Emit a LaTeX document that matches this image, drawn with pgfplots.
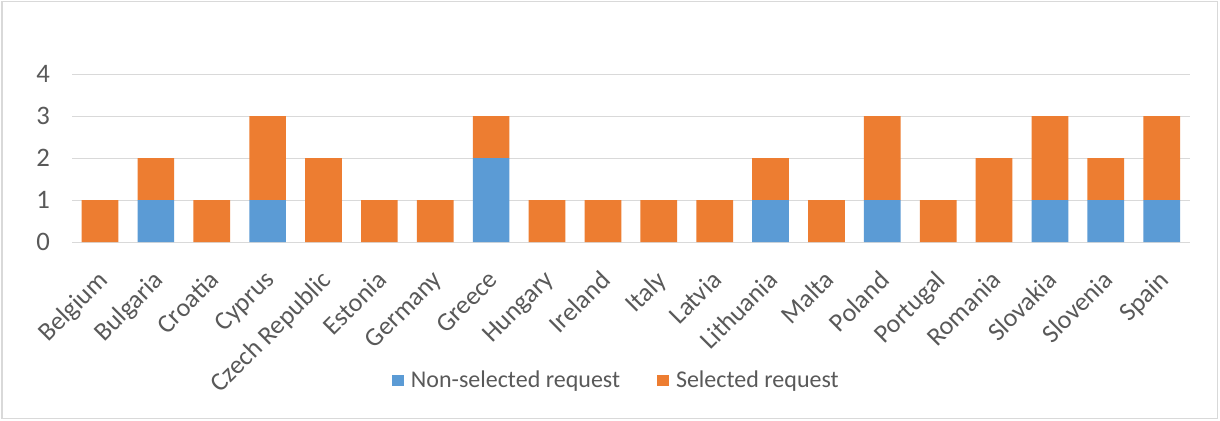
\documentclass[border=0pt]{standalone}
\usepackage{pgfplots}
\pgfplotsset{compat=1.18}
\usepackage{fontspec}
\setmainfont{Carlito}
\definecolor{nonsel}{HTML}{5B9BD5}
\definecolor{sel}{HTML}{ED7D31}
\definecolor{txt}{HTML}{595959}
\definecolor{gridc}{HTML}{D9D9D9}
\begin{document}
\begin{tikzpicture}
\fill[white] (-54pt,-133.5pt) rectangle (860.5pt,181.5pt);
\draw[gridc, line width=0.8pt] (-52.5pt,-132.5pt) rectangle (858.5pt,180.5pt);
\useasboundingbox (-54pt,-133.5pt) rectangle (860.5pt,181.5pt);
\begin{axis}[
  at={(0pt,0pt)}, anchor=south west,
  scale only axis,
  width=837.75pt, height=126pt,
  ybar stacked,
  bar width=27.5pt,
  xmin=-0.5, xmax=19.5,
  ymin=0, ymax=4,
  ytick={0,1,2,3,4},
  xtick={0,...,19},
  xticklabels={Belgium,Bulgaria,Croatia,Cyprus,Czech Republic,Estonia,Germany,Greece,Hungary,Ireland,Italy,Latvia,Lithuania,Malta,Poland,Portugal,Romania,Slovakia,Slovenia,Spain},
  xticklabel style={xshift=-3pt, yshift=-20pt, rotate=45, anchor=north east, inner sep=0pt,
    font=\fontsize{19.5}{22}\selectfont},
  yticklabel style={xshift=-13pt, font=\fontsize{20}{23}\selectfont},
  axis line style={draw=none},
  major tick length=0pt,
  xmajorgrids=false,
  ymajorgrids,
  grid style={draw=gridc, line width=0.8pt},
  tick label style={text=txt},
  /pgf/number format/assume math mode=true,
  legend columns=2,
  legend style={at={(axis description cs:0.4875,-0.823)}, anchor=center, draw=none, fill=none,
    font=\fontsize{18}{21}\selectfont, text=txt,
    /tikz/every even column/.append style={column sep=26pt}},
  legend image code/.code={\fill[#1] (0pt,-4.2pt) rectangle (8.4pt,4.2pt);},
]
\addplot[fill=nonsel, draw=none] coordinates {
(0,0) (1,1) (2,0) (3,1) (4,0) (5,0) (6,0) (7,2) (8,0) (9,0)
(10,0) (11,0) (12,1) (13,0) (14,1) (15,0) (16,0) (17,1) (18,1) (19,1)
};
\addplot[fill=sel, draw=none] coordinates {
(0,1) (1,1) (2,1) (3,2) (4,2) (5,1) (6,1) (7,1) (8,1) (9,1)
(10,1) (11,1) (12,1) (13,1) (14,2) (15,1) (16,2) (17,2) (18,1) (19,2)
};
\legend{\hspace{3.5pt}Non-selected request, \hspace{3.5pt}Selected request}
\end{axis}
\end{tikzpicture}
\end{document}
